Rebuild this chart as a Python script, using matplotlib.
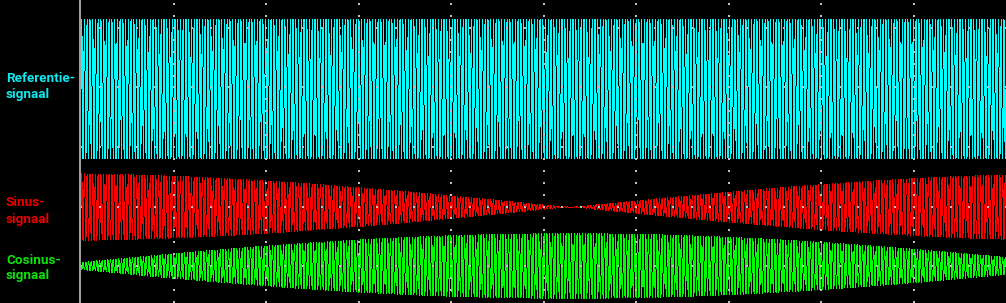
import numpy as np
import matplotlib
matplotlib.use('Agg')
import matplotlib.pyplot as plt
from matplotlib.lines import Line2D

# signal settings
carrier_cycles = 337          # cycles of the reference over the whole screen
n_columns = 925               # screen columns of the trace area
sub_samples = 32              # samples per column (peak detect)
sweep_start_deg = 97          # rotor angle at left edge
sweep_end_deg = 254           # rotor angle at right edge

# band centres and amplitudes in grid divisions
ref_center, ref_amp = 2.97, 1.18
sin_center, sin_amp = 0.99, 0.57
cos_center, cos_amp = 0.0, 0.55

labels = [['Referentie-', 'signaal'], ['Sinus-', 'signaal'], ['Cosinus-', 'signaal']]
label_colors = ['#10e8f0', '#e80000', '#10e010']
label_baselines = [(82, 98), (206.5, 222.5), (263.5, 279.5)]  # pixel rows

W, H = 1006, 303
fig = plt.figure(figsize=(W / 100, H / 100), dpi=100, facecolor='black')
ax = fig.add_axes([81 / W, 0, 925 / W, 1])
ax.set_facecolor('black')
ax.set_xlim(0, 10)
ax.set_ylim((266 - 303) / 59.5, 266 / 59.5)
ax.axis('off')

# time per column, with sub samples for min/max per column
t = np.linspace(0, 10, n_columns * sub_samples + 1)
carrier = np.sin(2 * np.pi * carrier_cycles * t / 10)
theta = np.deg2rad(sweep_start_deg + (sweep_end_deg - sweep_start_deg) * t / 10)
col_w = 10 / n_columns
col_x = (np.arange(n_columns) + 0.5) * col_w
px = 1 / 59.5   # one pixel row in grid divisions


def peak_detect(sig):
    idx = np.arange(n_columns)[:, None] * sub_samples + np.arange(sub_samples + 1)[None, :]
    blocks = sig[idx]
    return blocks.min(axis=1), blocks.max(axis=1)


traces = [
    (ref_center + ref_amp * carrier, '#00ffff'),
    (sin_center + sin_amp * np.sin(theta) * carrier, '#ff0000'),
    (cos_center + cos_amp * np.cos(theta) * carrier, '#00ff00'),
]
for sig, c in traces:
    lo, hi = peak_detect(sig)
    mid = (lo + hi) / 2
    h = np.maximum(hi - lo, px)
    ax.bar(col_x, h, bottom=mid - h / 2, width=col_w, color=c, linewidth=0, antialiased=False)

# dotted graticule
ylo, yhi = ax.get_ylim()
for gx in range(1, 10):
    ys = np.arange(np.ceil(ylo * 5) / 5, yhi, 0.2)
    ax.scatter(np.full(len(ys), gx), ys, s=0.6, marker='s', color='#c0c0c0', lw=0, zorder=5)
for gy in range(0, 5):
    xs = np.arange(0, 10.01, 0.2)
    ax.scatter(xs, np.full(len(xs), gy), s=0.6, marker='s', color='#c0c0c0', lw=0, zorder=5)

# separator line
fig.add_artist(Line2D([80 / W, 80 / W], [0, 1], color='#a0a0a0', lw=1.44))

for lines, c, bases in zip(labels, label_colors, label_baselines):
    for txt, b in zip(lines, bases):
        fig.text(6 / W, 1 - b / H, txt, color=c, fontsize=9.7, fontweight='bold',
                 family='Roboto', va='baseline', ha='left')

fig.savefig('out.png', dpi=100, facecolor='black')
